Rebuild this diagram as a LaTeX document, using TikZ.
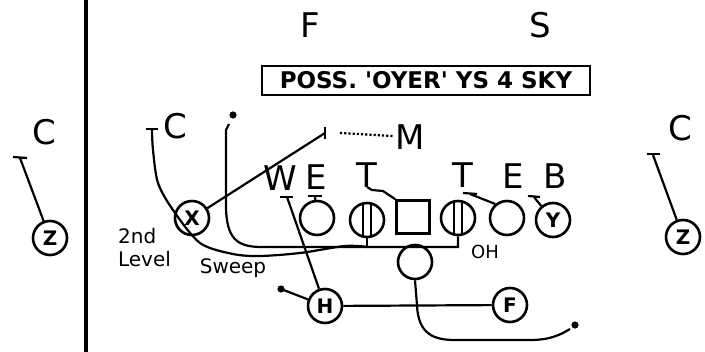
\documentclass[tikz,border=0pt]{standalone}
\usepackage{fontspec}
\setmainfont{DejaVu Sans}
\usetikzlibrary{positioning}
\begin{document}
\begin{tikzpicture}[x=0.5pt,y=-0.5pt,line width=1.1pt,
    player/.style={circle,draw,line width=1.3pt,minimum size=17pt,inner sep=0pt,
      font=\bfseries\fontsize{10}{10}\selectfont},
    defender/.style={inner sep=0pt,font=\fontsize{17}{17}\selectfont},
    note/.style={inner sep=0pt,align=left,font=\fontsize{10}{11.5}\selectfont}]
    \useasboundingbox (0,0) rectangle (705,352);

    % Sideline
    \draw[line width=2pt] (86,0) -- (86,352);

    % Title
    \node[draw,line width=1.4pt,minimum width=164pt,minimum height=14.5pt,inner sep=0pt,
      font=\bfseries\fontsize{11.5}{12}\selectfont] (title) at (426,80.5)
      {POSS. \textquotesingle OYER\textquotesingle\ YS 4 SKY};

    % Defense
    \node[defender] (fs) at (310,25) {F};
    \node[defender] (ss) at (540,25) {S};
    \node[defender] (cl) at (44,132) {C};
    \node[defender] (cx) at (175,126) {C};
    \node[defender] (cr) at (680,128) {C};
    \node[defender] (m) at (410,137) {M};
    \node[defender] (w) at (280,178) {W};
    \node[defender] (el) at (316,177) {E};
    \node[defender] (tl) at (367,175) {T};
    \node[defender] (tr) at (463,175) {T};
    \node[defender] (er) at (513,176) {E};
    \node[defender] (b) at (555,176) {B};

    % Offense
    \node[player] (zl) at (50,238) {Z};
    \node[player] (zr) at (683,237) {Z};
    \node[player] (x) at (192,218) {X};
    \node[player] (lt) at (317,218) {};
    \node[player] (lg) at (367,220) {};
    \node[draw,line width=1.3pt,minimum size=16.5pt,inner sep=0pt] (c) at (413,217) {};
    \node[player] (rg) at (458,218) {};
    \node[player] (rt) at (507,218) {};
    \node[player] (y) at (553,220) {Y};
    \node[player] (qb) at (415,262) {};
    \node[player] (h) at (325,306) {H};
    \node[player] (f) at (510,305) {F};

    % Guards
    \draw ([xshift=-2pt,yshift=8pt]lg.center) -- ([xshift=-2pt,yshift=-8pt]lg.center);
    \draw ([xshift=2pt,yshift=8pt]lg.center) -- ([xshift=2pt,yshift=-8pt]lg.center);
    \draw ([xshift=-2pt,yshift=8pt]rg.center) -- ([xshift=-2pt,yshift=-8pt]rg.center);
    \draw ([xshift=2pt,yshift=8pt]rg.center) -- ([xshift=2pt,yshift=-8pt]rg.center);

    % Ends of routes and blocks
    \coordinate (zlb) at (20,158);
    \coordinate (zrb) at (653,155);
    \coordinate (cxb) at (152,130);
    \coordinate (mb) at (325,133);
    \coordinate (wb) at (287,197);
    \coordinate (elb) at (315,196);
    \coordinate (trb) at (470,194);
    \coordinate (bb) at (534,197);
    \coordinate (pulld) at (233,115);
    \coordinate (hd) at (281,289);
    \coordinate (qbd) at (575,325);

    % Bars
    \draw (13,157) -- (27,158);
    \draw (647,154) -- (660,154);
    \draw (146,129) -- (158,129);
    \draw (325,127) -- (325,139);
    \draw (280,197) -- (293,197);
    \draw (308,196) -- (322,196);
    \draw (463,193) -- (477,194);
    \draw (528,196) -- (540,197);

    % Blocks
    \draw (zl) -- (zlb);
    \draw (zr) -- (zrb);
    \draw (x) -- (mb);
    \draw[densely dotted] (340,133) -- (m);
    \draw (h) -- (wb);
    \draw (lt) -- (elb);
    \draw (trb) -- (rt.130);
    \draw (bb) -- (y.130);
    \draw (367,187) -- (372,190) -- (383,191) -- (c.north west);

    % Pull and sweep
    \draw (rg.south) |- (262,247) .. controls (238,247) and (226,240) .. (226,205)
      -- (226,130) -- (229,124);
    \draw (lg.south) -- ++(0,10);
    \draw plot[smooth] coordinates {(cxb) (153,150) (158,183) (173,210) (200,243)
      (233,254) (260,256) (300,253) (345,246) (368,247)};
    \fill (pulld) circle (1.8pt);

    % Backs
    \draw (hd) -- (h);
    \fill (hd) circle (1.8pt);
    \draw (h) -- (f);
    \draw (qb.south) -- (417,305) .. controls (418,335) and (435,340) .. (455,340)
      -- (530,340) .. controls (550,340) and (560,335) .. (570,329);
    \fill (qbd) circle (1.8pt);

    % Labels
    \node[note,anchor=west] (lvl) at (117,248) {2nd\\Level};
    \node[note] (sw) at (233,268) {Sweep};
    \node[note,font=\fontsize{9}{10}\selectfont] (oh) at (485,252) {OH};
\end{tikzpicture}
\end{document}
